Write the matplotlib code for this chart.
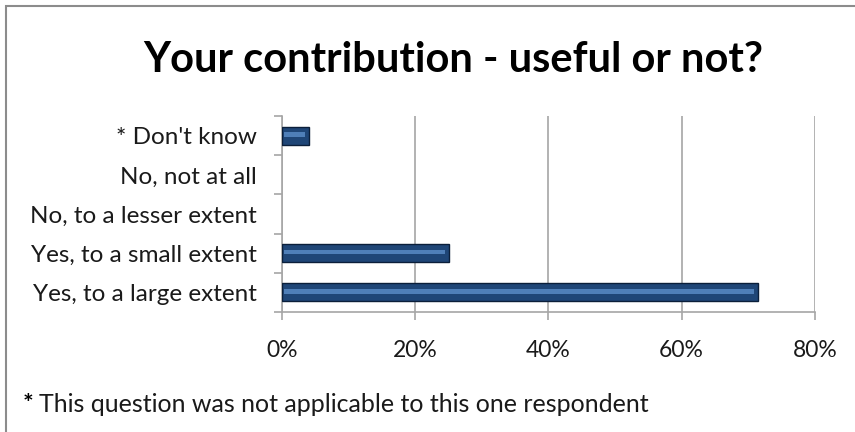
import matplotlib.pyplot as plt
from matplotlib.patches import Rectangle
import numpy as np

# Chart data (bottom to top)
categories = ["Yes, to a large extent", "Yes, to a small extent",
              "No, to a lesser extent", "No, not at all", "* Don't know"]
shares = [71.4, 25.0, 0.0, 0.0, 4.0]
x_ticks = [0, 20, 40, 60, 80]
x_labels = ["0%", "20%", "40%", "60%", "80%"]

title = "Your contribution - useful or not?"
footnote = "This question was not applicable to this one respondent"


def main():
    plt.rcParams["font.family"] = ["Lato", "DejaVu Sans"]

    fig = plt.figure(figsize=(8.55, 4.32), dpi=100)
    ax = fig.add_axes([0.330, 0.278, 0.623, 0.453])

    pos = np.arange(len(categories))
    edge_w = [1.0 if s > 0 else 0 for s in shares]

    # bars with a lighter strip to fake the bevel look
    ax.barh(pos, shares, height=0.46, color="#1f4677",
            edgecolor="#0b1f3a", linewidth=edge_w, zorder=3)
    ax.barh(pos + 0.03, [max(s - 0.8, 0) for s in shares], height=0.12,
            left=0.3, color="#4f7fb8", linewidth=0, zorder=4)

    ax.set_xlim(0, 80)
    ax.set_ylim(-0.5, len(categories) - 0.5)

    ax.set_xticks(x_ticks)
    ax.set_xticklabels(x_labels, fontsize=16.5, color="#1a1a1a")
    ax.xaxis.grid(True, color="#a6a6a6", linewidth=1.2, zorder=0)

    # category labels at centres, tick marks at the boundaries
    ax.set_yticks(np.arange(-0.5, len(categories), 1.0))
    ax.set_yticklabels([])
    ax.set_yticks(pos, minor=True)
    ax.set_yticklabels(categories, minor=True, fontsize=17.5, color="#1a1a1a")
    ax.tick_params(axis="y", which="minor", length=0, pad=18)
    ax.tick_params(axis="y", which="major", length=6, color="#a6a6a6",
                   width=1.2)
    ax.tick_params(axis="x", length=6, color="#a6a6a6", width=1.2, pad=14)

    for side in ["top", "right"]:
        ax.spines[side].set_visible(False)
    for side in ["left", "bottom"]:
        ax.spines[side].set_color("#a6a6a6")
        ax.spines[side].set_linewidth(1.2)

    fig.text(0.53, 0.862, title, ha="center", va="center",
             fontsize=30, fontweight="bold")
    fig.text(0.026, 0.063, "*", ha="left", va="center", fontsize=18,
             fontweight="bold")
    fig.text(0.046, 0.063, footnote, ha="left", va="center", fontsize=18,
             color="#1a1a1a")

    # outer chart frame, cut off on the right and bottom
    fig.patches.append(Rectangle((6 / 855, -0.1), 1.2, (432 - 6) / 432 + 0.1,
                                 transform=fig.transFigure, fill=False,
                                 edgecolor="#8c8c8c", linewidth=1.5))

    fig.savefig("out.png", dpi=100)


if __name__ == "__main__":
    main()
